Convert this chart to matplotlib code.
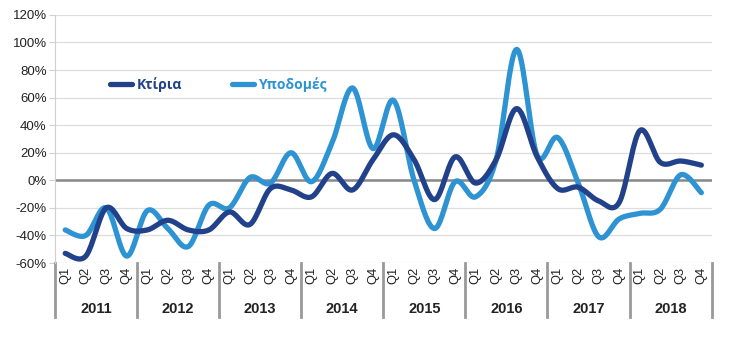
import numpy as np
import matplotlib.pyplot as plt
import matplotlib.transforms as mtransforms

# δεδομένα (ετήσια μεταβολή, %)
years = ['2011', '2012', '2013', '2014', '2015', '2016', '2017', '2018']
quarters = ['Q1', 'Q2', 'Q3', 'Q4']
ktiria = [-53, -55, -20, -35,
          -36, -29, -36, -36,
          -23, -32, -6, -7,
          -12, 5, -7, 15,
          33, 15, -14, 17,
          -2, 15, 52, 17,
          -6, -5, -15, -16,
          36, 13, 14, 11]
ypodomes = [-36, -40, -20, -55,
            -22, -35, -48, -18,
            -20, 2, -2, 20,
            -1, 27, 67, 23,
            58, 0, -35, -1,
            -12, 15, 95, 18,
            31, -2, -41, -28,
            -24, -21, 4, -9]

c_dark = '#21418a'
c_light = '#2d93d2'

plt.rcParams['font.family'] = ['Liberation Sans', 'DejaVu Sans']


def smooth(vals, n=20):
    # καμπύλη Bezier τύπου Excel (Catmull-Rom)
    y = np.asarray(vals, dtype=float)
    x = np.arange(len(y), dtype=float)
    px = np.concatenate([[x[0]], x, [x[-1]]])
    py = np.concatenate([[y[0]], y, [y[-1]]])
    xs, ys = [], []
    t = np.linspace(0, 1, n)
    for i in range(len(y) - 1):
        p0 = np.array([px[i + 1], py[i + 1]])
        p3 = np.array([px[i + 2], py[i + 2]])
        c1 = p0 + (p3 - np.array([px[i], py[i]])) / 6
        c2 = p3 - (np.array([px[i + 3], py[i + 3]]) - p0) / 6
        b = ((1 - t) ** 3)[:, None] * p0 + (3 * (1 - t) ** 2 * t)[:, None] * c1 \
            + (3 * (1 - t) * t ** 2)[:, None] * c2 + (t ** 3)[:, None] * p3
        xs.append(b[:, 0])
        ys.append(b[:, 1])
    return np.concatenate(xs), np.concatenate(ys)


fig = plt.figure(figsize=(7.47, 3.54), dpi=100)
ax = fig.add_axes([0.0736, 0.257, 0.879, 0.701])

ax.set_ylim(-60, 120)
ax.set_xlim(-0.5, len(ktiria) - 0.5)
ax.set_yticks(np.arange(-60, 121, 20))
ax.set_yticklabels([f'{v}%' for v in range(-60, 121, 20)], fontsize=9.5, color='#222222')
ax.grid(axis='y', color='#dddddd', linewidth=0.9)
ax.set_axisbelow(True)
ax.axhline(0, color='#888888', linewidth=1.8, zorder=1)

for s in ['top', 'right', 'bottom']:
    ax.spines[s].set_visible(False)
ax.spines['left'].set_color('#d0d0d0')
ax.tick_params(axis='y', length=4, color='#d0d0d0', pad=2)

xs, ys = smooth(ktiria)
l1, = ax.plot(xs, ys, color=c_dark, linewidth=3.8, solid_capstyle='round', zorder=3)
xs, ys = smooth(ypodomes)
l2, = ax.plot(xs, ys, color=c_light, linewidth=3.8, solid_capstyle='round', zorder=2)

# άξονας κατηγοριών σε δύο επίπεδα
ax.set_xticks(np.arange(len(ktiria)))
ax.set_xticklabels(quarters * len(years), rotation=90, fontsize=9.3, color='#222222')
ax.tick_params(axis='x', length=0, pad=3)

trans = mtransforms.blended_transform_factory(ax.transData, ax.transAxes)
for i, yr in enumerate(years):
    ax.text(i * 4 + 1.5, -0.185, yr, transform=trans, ha='center', va='center',
            fontsize=10.5, fontweight='bold', color='#222222')
for i in range(len(years) + 1):
    ax.plot([i * 4 - 0.5, i * 4 - 0.5], [0, -0.218], transform=trans, color='#999999',
            linewidth=2, clip_on=False)

# υπόμνημα
leg = ax.legend(handles=[l1, l2], labels=['Κτίρια', 'Υποδομές'], loc='center left',
                bbox_to_anchor=(0.065, 0.718), ncol=2, frameon=False, handlelength=1.6,
                columnspacing=3.6, handletextpad=0.3,
                prop={'family': 'Open Sans', 'weight': 'bold', 'size': 10})
for txt, col in zip(leg.get_texts(), [c_dark, c_light]):
    txt.set_color(col)

fig.savefig('out.png', dpi=100)
